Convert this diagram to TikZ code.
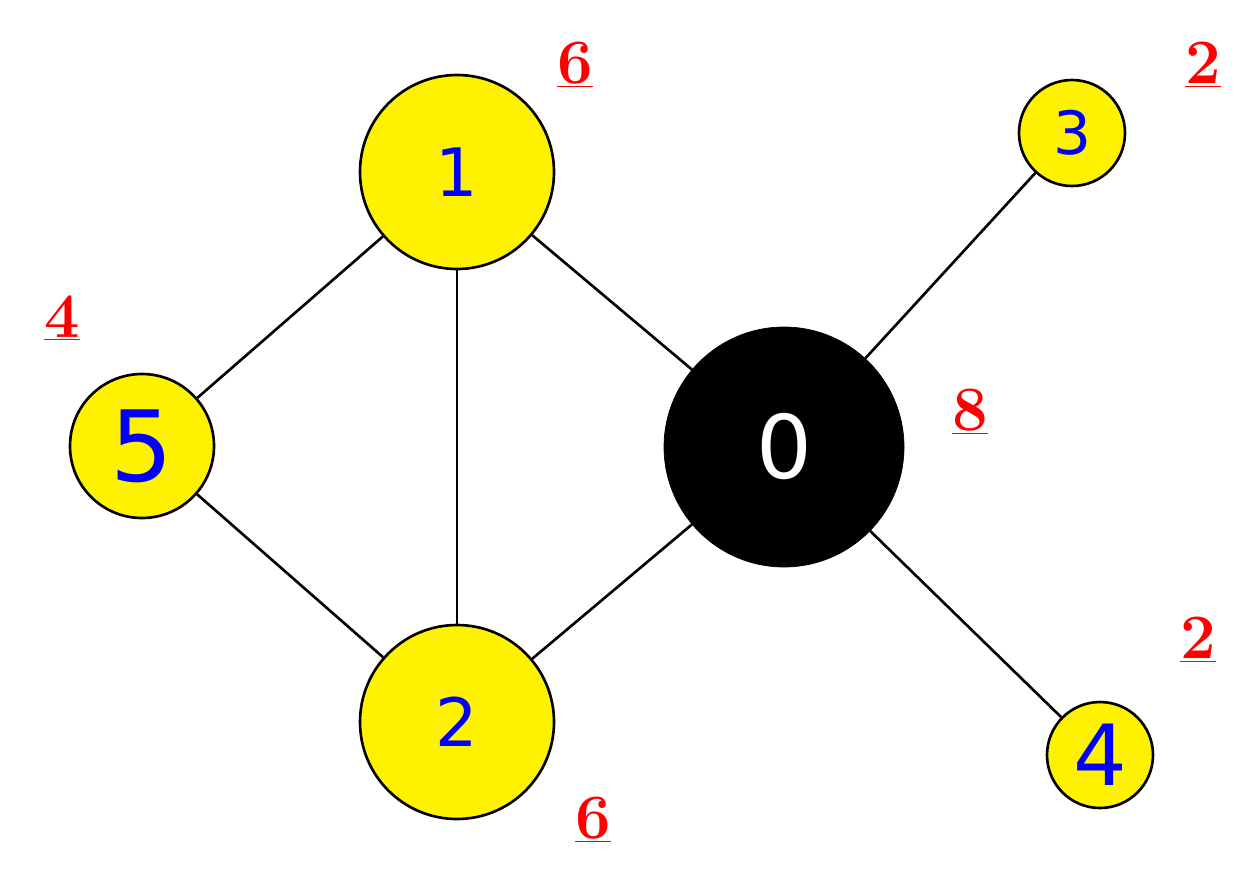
\documentclass[tikz,border=0pt]{standalone}
\usepackage{fontspec}
\newfontfamily\sansf{DejaVu Sans}
\begin{document}
\begin{tikzpicture}[x=0.02cm,y=-0.02cm,
  v/.style={circle,draw=black,line width=1.5pt,fill=yellow,text=blue,inner sep=0pt,font=\sansf\fontsize{38}{40}\selectfont},
  lab/.style={text=red,font=\bfseries\fontsize{36}{40}\selectfont},
  e/.style={line width=1.5pt}]
\useasboundingbox (0,0) rectangle (1250,892);
\node[v,minimum size=194*0.02cm] (n1) at (457,172) {1};
\node[v,minimum size=194*0.02cm] (n2) at (457,722) {2};
\node[v,minimum size=144*0.02cm,font=\sansf\fontsize{56}{60}\selectfont] (n5) at (142,446) {5};
\node[circle,fill=black,draw=black,text=white,minimum size=240*0.02cm,inner sep=0pt,font=\sansf\fontsize{50}{56}\selectfont] (n0) at (784,447) {0};
\node[v,minimum size=106*0.02cm,font=\sansf\fontsize{34}{40}\selectfont] (n3) at (1072,133) {3};
\node[v,minimum size=106*0.02cm,font=\sansf\fontsize{48}{52}\selectfont] (n4) at (1100,755) {4};
\draw[e] (n1)--(n5); \draw[e] (n1)--(n2); \draw[e] (n1)--(n0);
\draw[e] (n5)--(n2); \draw[e] (n2)--(n0); \draw[e] (n0)--(n3); \draw[e] (n0)--(n4);
\node[lab] (l1) at (575,65) {\underline{6}};
\node[lab] (l3) at (1203,65) {\underline{2}};
\node[lab] (l5) at (62,318) {\underline{4}};
\node[lab] (l0) at (970,412) {\underline{8}};
\node[lab] (l4) at (1198,640) {\underline{2}};
\node[lab] (l2) at (593,820) {\underline{6}};
\end{tikzpicture}
\end{document}
